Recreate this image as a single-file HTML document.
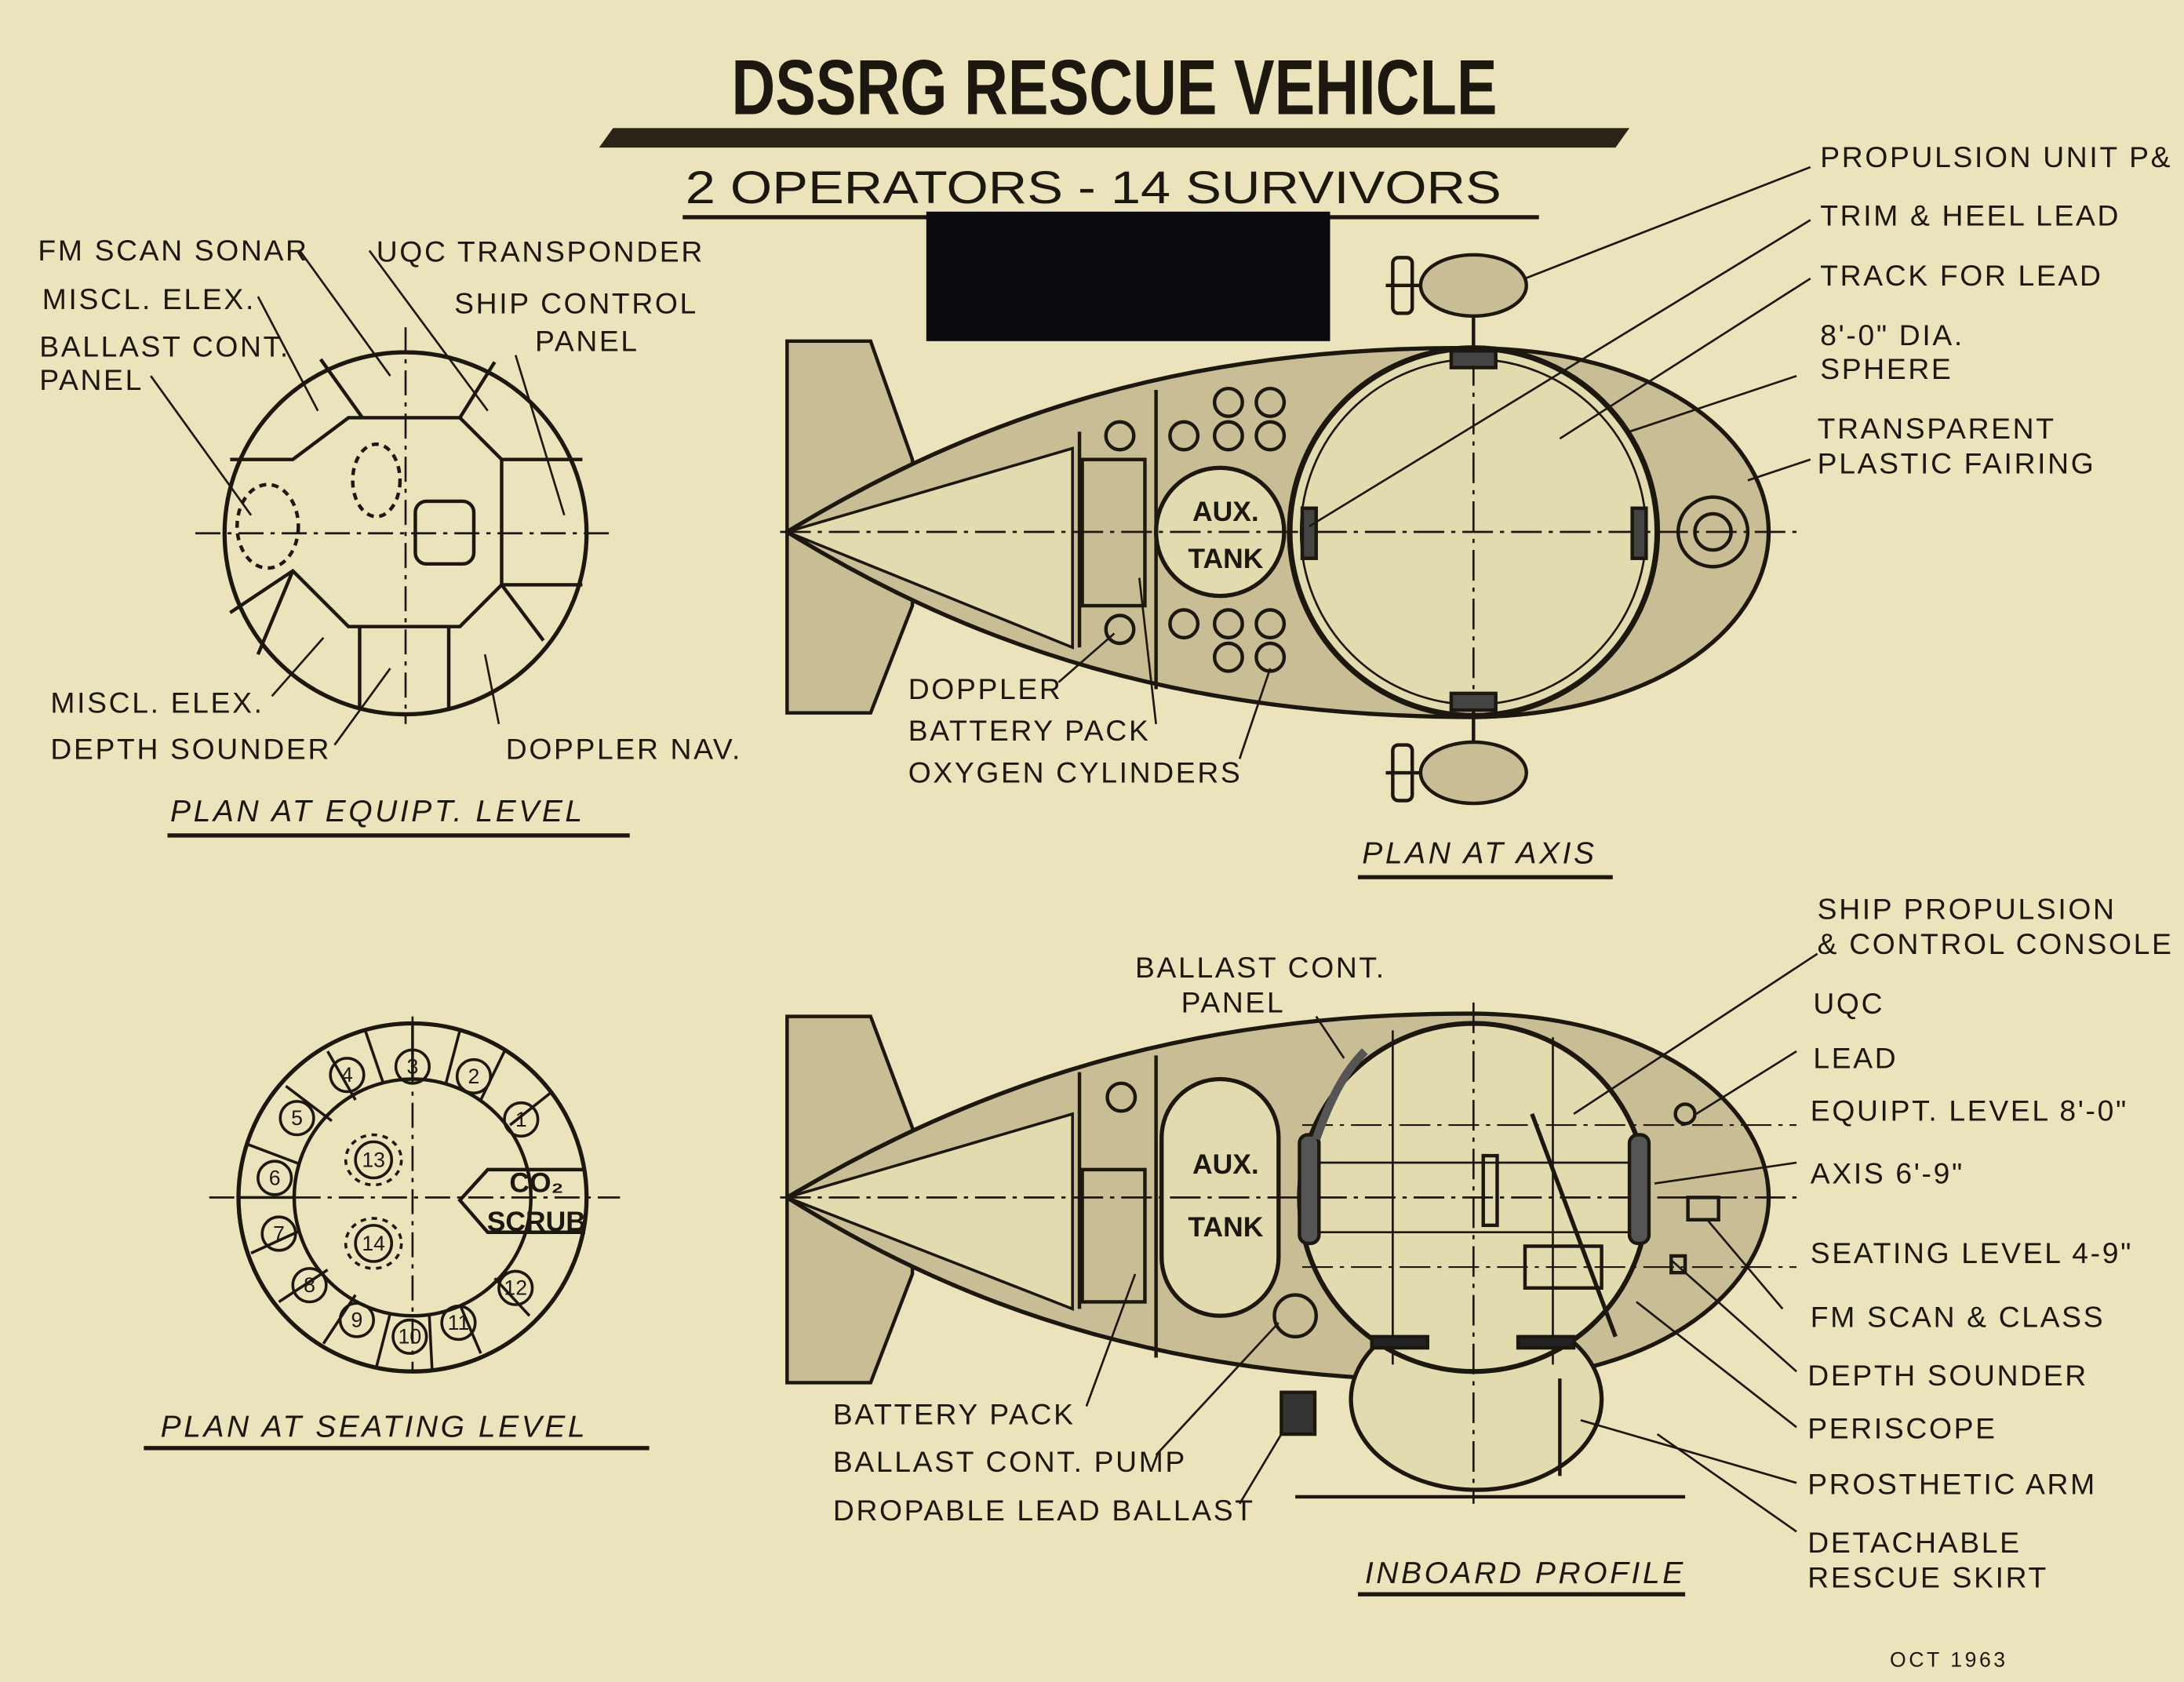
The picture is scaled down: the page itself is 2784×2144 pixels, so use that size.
<!DOCTYPE html>
<html><head><meta charset="utf-8"><style>
html,body{margin:0;padding:0;background:#eae3bc;}
svg{display:block}
text{font-family:"Liberation Sans",sans-serif;fill:#1c1810;}
</style></head><body>
<svg width="2784" height="2144" viewBox="0 0 1568 1208" xmlns="http://www.w3.org/2000/svg">
<rect width="1568" height="1208" fill="#eae3bc"/>
<g stroke="#1c1810" fill="none" stroke-width="2.5">
<polygon points="440,92 1170,92 1160,106 430,106" fill="#2a2418" stroke="none"/>
<line x1="490" y1="156" x2="1105" y2="156" stroke-width="3"/>
<rect x="665" y="152" width="290" height="93" fill="#0c0a10" stroke="none"/>

<circle cx="291" cy="383" r="130" stroke-width="3"/>
<line x1="140" y1="383" x2="440" y2="383" stroke-dasharray="18,5,3,5" stroke-width="1.5"/>
<line x1="291" y1="235" x2="291" y2="520" stroke-dasharray="18,5,3,5" stroke-width="1.5"/>
<polyline points="165,330 210,330 250,300 330,300 360,330 418,330"/>
<polyline points="165,440 210,410 250,450 330,450 360,420 418,420"/>
<line x1="360" y1="330" x2="360" y2="420"/>
<line x1="230" y1="258" x2="260" y2="300"/><line x1="330" y1="300" x2="355" y2="260"/>
<line x1="258" y1="450" x2="258" y2="510"/><line x1="322" y1="450" x2="322" y2="510"/>
<line x1="210" y1="410" x2="185" y2="470"/><line x1="360" y1="420" x2="390" y2="460"/>
<ellipse cx="192" cy="378" rx="22" ry="30" stroke-dasharray="5,4"/>
<ellipse cx="270" cy="345" rx="17" ry="26" stroke-dasharray="5,4"/>
<rect x="298" y="360" width="42" height="45" rx="8"/>

<polygon points="565,245 625,245 655,330 655,435 625,512 565,512" fill="#c9bd95"/>
<path d="M565,382 C700,300 850,248 1060,250 C1200,252 1270,320 1270,382 C1270,445 1200,512 1060,515 C850,515 700,465 565,382 Z" fill="#c9bd95" stroke-width="3"/>
<path d="M565,382 L770,322 L770,465 Z" fill="#e3dbb0" stroke-width="2"/>
<line x1="775" y1="310" x2="775" y2="465"/><line x1="830" y1="280" x2="830" y2="495"/>
<rect x="777" y="330" width="45" height="105" fill="#c9bd95"/>
<circle cx="876" cy="382" r="46" fill="#e3dbb0" stroke-width="3"/>
<circle cx="1058" cy="382" r="132" fill="#e3dbb0" stroke-width="4"/>
<circle cx="1058" cy="382" r="124" stroke-width="1.5"/>
<line x1="560" y1="382" x2="1290" y2="382" stroke-dasharray="22,5,3,5" stroke-width="1.5"/>
<line x1="1058" y1="220" x2="1058" y2="560" stroke-dasharray="22,5,3,5" stroke-width="1.5"/>
<g stroke-width="2.5"><circle cx="804" cy="313" r="10"/><circle cx="850" cy="313" r="10"/><circle cx="882" cy="289" r="10"/><circle cx="912" cy="289" r="10"/><circle cx="882" cy="313" r="10"/><circle cx="912" cy="313" r="10"/>
<circle cx="804" cy="452" r="10"/><circle cx="850" cy="448" r="10"/><circle cx="882" cy="448" r="10"/><circle cx="912" cy="448" r="10"/><circle cx="882" cy="472" r="10"/><circle cx="912" cy="472" r="10"/></g>
<circle cx="1230" cy="382" r="25"/><circle cx="1230" cy="382" r="13"/>
<rect x="935" y="365" width="10" height="36" fill="#444"/><rect x="1172" y="365" width="10" height="36" fill="#444"/>
<rect x="1042" y="252" width="32" height="12" fill="#444"/><rect x="1042" y="498" width="32" height="12" fill="#444"/>
<ellipse cx="1058" cy="205" rx="38" ry="22" fill="#c9bd95"/><line x1="1058" y1="227" x2="1058" y2="252"/>
<line x1="995" y1="205" x2="1020" y2="205"/><rect x="1000" y="185" width="14" height="40" rx="4"/>
<ellipse cx="1058" cy="555" rx="38" ry="22" fill="#c9bd95"/><line x1="1058" y1="510" x2="1058" y2="533"/>
<line x1="995" y1="555" x2="1020" y2="555"/><rect x="1000" y="535" width="14" height="40" rx="4"/>

<circle cx="296" cy="860" r="125" stroke-width="3"/>
<circle cx="296" cy="860" r="85" stroke-width="2.5"/>
<line x1="150" y1="860" x2="445" y2="860" stroke-dasharray="18,5,3,5" stroke-width="1.5"/>
<line x1="296" y1="730" x2="296" y2="985" stroke-dasharray="18,5,3,5" stroke-width="1.5"/>
<polyline points="420,840 350,840 330,862 350,885 420,885"/>
<g stroke-width="2">
<line x1="296" y1="735" x2="296" y2="775"/><line x1="262" y1="740" x2="275" y2="778"/><line x1="235" y1="755" x2="255" y2="790"/><line x1="205" y1="780" x2="238" y2="805"/><line x1="178" y1="822" x2="215" y2="836"/><line x1="172" y1="860" x2="211" y2="860"/><line x1="180" y1="900" x2="215" y2="884"/><line x1="200" y1="935" x2="235" y2="912"/><line x1="232" y1="965" x2="255" y2="930"/><line x1="270" y1="982" x2="280" y2="943"/><line x1="310" y1="983" x2="308" y2="944"/><line x1="345" y1="972" x2="330" y2="937"/><line x1="380" y1="945" x2="355" y2="918"/><line x1="330" y1="740" x2="320" y2="778"/><line x1="362" y1="755" x2="345" y2="790"/><line x1="395" y1="785" x2="366" y2="808"/>
<circle cx="249" cy="772" r="12"/><circle cx="296" cy="766" r="12"/><circle cx="340" cy="773" r="12"/><circle cx="374" cy="804" r="12"/><circle cx="213" cy="803" r="12"/><circle cx="197" cy="846" r="12"/><circle cx="200" cy="886" r="12"/><circle cx="222" cy="923" r="12"/><circle cx="256" cy="948" r="12"/><circle cx="294" cy="960" r="12"/><circle cx="329" cy="950" r="12"/><circle cx="370" cy="925" r="12"/>
<circle cx="268" cy="833" r="13"/><circle cx="268" cy="893" r="13"/>
<ellipse cx="268" cy="833" rx="20" ry="18" stroke-dasharray="4,4"/><ellipse cx="268" cy="893" rx="20" ry="18" stroke-dasharray="4,4"/></g>

<polygon points="565,730 625,730 655,810 655,915 625,993 565,993" fill="#c9bd95"/>
<path d="M565,860 C700,780 850,727 1060,728 C1200,730 1270,800 1270,860 C1270,920 1200,990 1060,992 C850,992 700,945 565,860 Z" fill="#c9bd95" stroke-width="3"/>
<path d="M565,860 L770,800 L770,940 Z" fill="#e3dbb0" stroke-width="2"/>
<line x1="775" y1="770" x2="775" y2="940"/><line x1="830" y1="758" x2="830" y2="975"/>
<rect x="777" y="840" width="45" height="95" fill="#c9bd95"/>
<rect x="834" y="775" width="84" height="170" rx="42" fill="#e3dbb0" stroke-width="3"/>
<circle cx="805" cy="788" r="10"/>
<ellipse cx="1060" cy="1005" rx="90" ry="65" fill="#e3dbb0" stroke-width="3"/>
<circle cx="1058" cy="860" r="125" fill="#e3dbb0" stroke-width="3.5"/>
<line x1="560" y1="860" x2="1290" y2="860" stroke-dasharray="22,5,3,5" stroke-width="1.5"/>
<line x1="1058" y1="720" x2="1058" y2="1080" stroke-dasharray="22,5,3,5" stroke-width="1.5"/>
<line x1="935" y1="808" x2="1290" y2="808" stroke-dasharray="22,5,3,5" stroke-width="1.2"/>
<line x1="935" y1="910" x2="1290" y2="910" stroke-dasharray="22,5,3,5" stroke-width="1.2"/>
<line x1="945" y1="835" x2="1175" y2="835" stroke-width="1.5"/><line x1="945" y1="885" x2="1175" y2="885" stroke-width="1.5"/>
<rect x="933" y="815" width="14" height="78" rx="6" fill="#555"/><rect x="1170" y="815" width="14" height="78" rx="6" fill="#555"/>
<path d="M945,818 C955,790 965,770 980,755" stroke-width="6" stroke="#555"/>
<line x1="1000" y1="740" x2="1000" y2="980" stroke-width="1.5"/><line x1="1115" y1="745" x2="1115" y2="980" stroke-width="1.5"/>
<rect x="1095" y="895" width="55" height="30"/>
<line x1="1100" y1="800" x2="1160" y2="960" stroke-width="3"/>
<rect x="1065" y="830" width="10" height="50"/>
<rect x="985" y="960" width="40" height="8" fill="#222"/><rect x="1090" y="960" width="40" height="8" fill="#222"/>
<circle cx="930" cy="945" r="15"/>
<rect x="920" y="1000" width="24" height="30" fill="#333"/>
<circle cx="1210" cy="800" r="7"/><rect x="1212" y="860" width="22" height="16"/><rect x="1200" y="902" width="10" height="12"/>
<line x1="930" y1="1075" x2="1210" y2="1075"/><line x1="1120" y1="990" x2="1120" y2="1060"/>

<g stroke-width="1.5">
<line x1="215" y1="180" x2="280" y2="270"/><line x1="265" y1="180" x2="350" y2="295"/><line x1="185" y1="213" x2="228" y2="295"/>
<line x1="370" y1="255" x2="405" y2="370"/><line x1="108" y1="270" x2="180" y2="370"/>
<line x1="195" y1="500" x2="232" y2="458"/><line x1="240" y1="535" x2="280" y2="480"/><line x1="358" y1="520" x2="348" y2="470"/>
<line x1="1300" y1="120" x2="1095" y2="200"/><line x1="1300" y1="158" x2="940" y2="378"/><line x1="1300" y1="200" x2="1120" y2="315"/>
<line x1="1290" y1="270" x2="1170" y2="310"/><line x1="1300" y1="330" x2="1255" y2="345"/>
<line x1="760" y1="490" x2="800" y2="455"/><line x1="830" y1="520" x2="818" y2="415"/><line x1="890" y1="545" x2="912" y2="480"/>
<line x1="1305" y1="685" x2="1130" y2="800"/><line x1="945" y1="730" x2="965" y2="760"/>
<line x1="1280" y1="940" x2="1225" y2="875"/><line x1="1290" y1="985" x2="1200" y2="905"/><line x1="1290" y1="1025" x2="1175" y2="935"/>
<line x1="1290" y1="1065" x2="1135" y2="1020"/><line x1="1290" y1="1100" x2="1190" y2="1030"/>
<line x1="780" y1="1010" x2="815" y2="915"/><line x1="830" y1="1045" x2="918" y2="950"/><line x1="890" y1="1080" x2="920" y2="1030"/>
<line x1="1290" y1="755" x2="1218" y2="800"/><line x1="1290" y1="835" x2="1188" y2="850"/>
</g>
<line x1="120" y1="600" x2="452" y2="600" stroke-width="3"/>
<line x1="975" y1="630" x2="1158" y2="630" stroke-width="3"/>
<line x1="103" y1="1040" x2="466" y2="1040" stroke-width="3"/>
<line x1="975" y1="1145" x2="1210" y2="1145" stroke-width="3"/>
</g>

<text x="525" y="82" font-size="56" font-weight="bold" textLength="550" lengthAdjust="spacingAndGlyphs">DSSRG RESCUE VEHICLE</text>
<text x="492" y="146" font-size="33" textLength="586" lengthAdjust="spacingAndGlyphs">2 OPERATORS - 14 SURVIVORS</text>

<g font-size="21" letter-spacing="1.5">
<text x="27" y="187">FM SCAN SONAR</text>
<text x="270" y="188">UQC TRANSPONDER</text>
<text x="30" y="222">MISCL. ELEX.</text>
<text x="326" y="225">SHIP CONTROL</text>
<text x="384" y="252">PANEL</text>
<text x="28" y="256">BALLAST CONT.</text>
<text x="28" y="280">PANEL</text>
<text x="36" y="512">MISCL. ELEX.</text>
<text x="36" y="545">DEPTH SOUNDER</text>
<text x="363" y="545">DOPPLER NAV.</text>
<text x="652" y="502">DOPPLER</text>
<text x="652" y="532">BATTERY PACK</text>
<text x="652" y="562">OXYGEN CYLINDERS</text>
<text x="1307" y="120">PROPULSION UNIT P&amp;</text>
<text x="1307" y="162">TRIM &amp; HEEL LEAD</text>
<text x="1307" y="205">TRACK FOR LEAD</text>
<text x="1307" y="248">8'-0" DIA.</text>
<text x="1307" y="272">SPHERE</text>
<text x="1305" y="315">TRANSPARENT</text>
<text x="1305" y="340">PLASTIC FAIRING</text>
<text x="1305" y="660">SHIP PROPULSION</text>
<text x="1305" y="685">&amp; CONTROL CONSOLE</text>
<text x="1302" y="728">UQC</text>
<text x="1302" y="767">LEAD</text>
<text x="1300" y="805">EQUIPT. LEVEL 8'-0"</text>
<text x="1300" y="850">AXIS 6'-9"</text>
<text x="1300" y="907">SEATING LEVEL 4-9"</text>
<text x="1300" y="953">FM SCAN &amp; CLASS</text>
<text x="1298" y="995">DEPTH SOUNDER</text>
<text x="1298" y="1033">PERISCOPE</text>
<text x="1298" y="1073">PROSTHETIC ARM</text>
<text x="1298" y="1115">DETACHABLE</text>
<text x="1298" y="1140">RESCUE SKIRT</text>
<text x="815" y="702">BALLAST CONT.</text>
<text x="848" y="727">PANEL</text>
<text x="598" y="1023">BATTERY PACK</text>
<text x="598" y="1057">BALLAST CONT. PUMP</text>
<text x="598" y="1092">DROPABLE LEAD BALLAST</text>
</g>
<g font-size="22" font-style="italic" letter-spacing="2">
<text x="122" y="590">PLAN AT EQUIPT. LEVEL</text>
<text x="978" y="620">PLAN AT AXIS</text>
<text x="115" y="1032">PLAN AT SEATING LEVEL</text>
<text x="980" y="1137">INBOARD PROFILE</text>
</g>
<g font-size="20" font-weight="bold" text-anchor="middle">
<text x="880" y="374">AUX.</text><text x="880" y="408">TANK</text>
<text x="880" y="843">AUX.</text><text x="880" y="888">TANK</text>
<text x="385" y="856">CO₂</text><text x="385" y="884">SCRUB</text>
</g>
<g font-size="15" text-anchor="middle">
<text x="249" y="777">4</text><text x="296" y="771">3</text><text x="340" y="778">2</text><text x="374" y="809">1</text><text x="213" y="808">5</text><text x="197" y="851">6</text><text x="200" y="891">7</text><text x="222" y="928">8</text><text x="256" y="953">9</text><text x="294" y="965">10</text><text x="329" y="955">11</text><text x="370" y="930">12</text><text x="268" y="838">13</text><text x="268" y="898">14</text>
</g>
<text x="1357" y="1197" font-size="15" letter-spacing="2">OCT 1963</text>
</svg>
</body></html>
